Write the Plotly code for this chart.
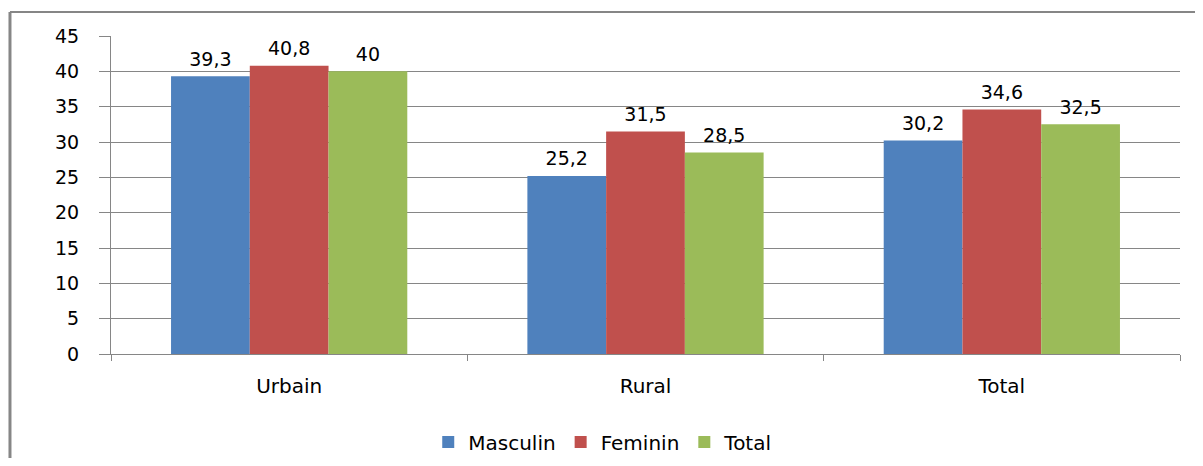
import plotly.graph_objects as go

categories = ["Urbain", "Rural", "Total"]
masculin = [39.3, 25.2, 30.2]
feminin = [40.8, 31.5, 34.6]
total = [40, 28.5, 32.5]
series_names = ["Masculin", "Feminin", "Total"]
colors = ["#4F81BD", "#C0504D", "#9BBB59"]
y_ticks = [0, 5, 10, 15, 20, 25, 30, 35, 40, 45]

FONT = "DejaVu Sans"

def fmt(v):
    return (f"{v:g}").replace(".", ",")

fig = go.Figure()
for i, (name, vals, col) in enumerate(zip(series_names, [masculin, feminin, total], colors)):
    fig.add_trace(go.Bar(
        x=categories, y=vals, name=name, offsetgroup=str(i),
        marker=dict(color=col, line=dict(width=0)),
    ))
for i, (name, vals) in enumerate(zip(series_names, [masculin, feminin, total])):
    fig.add_trace(go.Scatter(
        x=categories, y=vals, mode="markers+text", offsetgroup=str(i),
        marker=dict(size=8, opacity=0), showlegend=False, hoverinfo="skip",
        text=[fmt(v) for v in vals], textposition="top center",
        textfont=dict(family=FONT, size=19, color="#000000"),
        cliponaxis=False,
    ))

fig.update_layout(
    width=1187, height=450,
    margin=dict(l=103, r=15, t=28, b=104, autoexpand=False),
    paper_bgcolor="white", plot_bgcolor="white",
    barmode="group", bargap=0.337, bargroupgap=0,
    scattermode="group", scattergap=0.337,
    font=dict(family=FONT, size=19, color="#000000"),
    showlegend=True,
    legend=dict(orientation="h", x=0.46, xanchor="center", y=-0.277, yanchor="middle",
                font=dict(family=FONT, size=20, color="#000000"),
                itemwidth=30, tracegroupgap=0),
    xaxis=dict(
        type="category", showline=True, linecolor="#868686", linewidth=1,
        ticks="outside", tickson="boundaries", ticklen=6, tickcolor="#868686",
        tickfont=dict(family=FONT, size=20, color="#000000"),
        ticklabelstandoff=14, showgrid=False, automargin=False,
    ),
    yaxis=dict(
        range=[0, 45], tickvals=y_ticks, showline=True, linecolor="#868686", linewidth=1,
        showgrid=True, gridcolor="#868686", gridwidth=1, zeroline=False,
        ticks="outside", ticklen=11, tickcolor="#868686",
        tickfont=dict(family=FONT, size=19, color="#000000"),
        ticklabelstandoff=16, automargin=False,
    ),
    shapes=[
        dict(type="line", xref="paper", yref="paper", x0=-0.0945, x1=1.03, y0=1.0755, y1=1.0755,
             line=dict(color="#868686", width=2)),
        dict(type="line", xref="paper", yref="paper", x0=-0.0945, x1=-0.0945, y0=1.0755, y1=-0.4,
             line=dict(color="#868686", width=3)),
    ],
)

fig.write_html("out.html")
